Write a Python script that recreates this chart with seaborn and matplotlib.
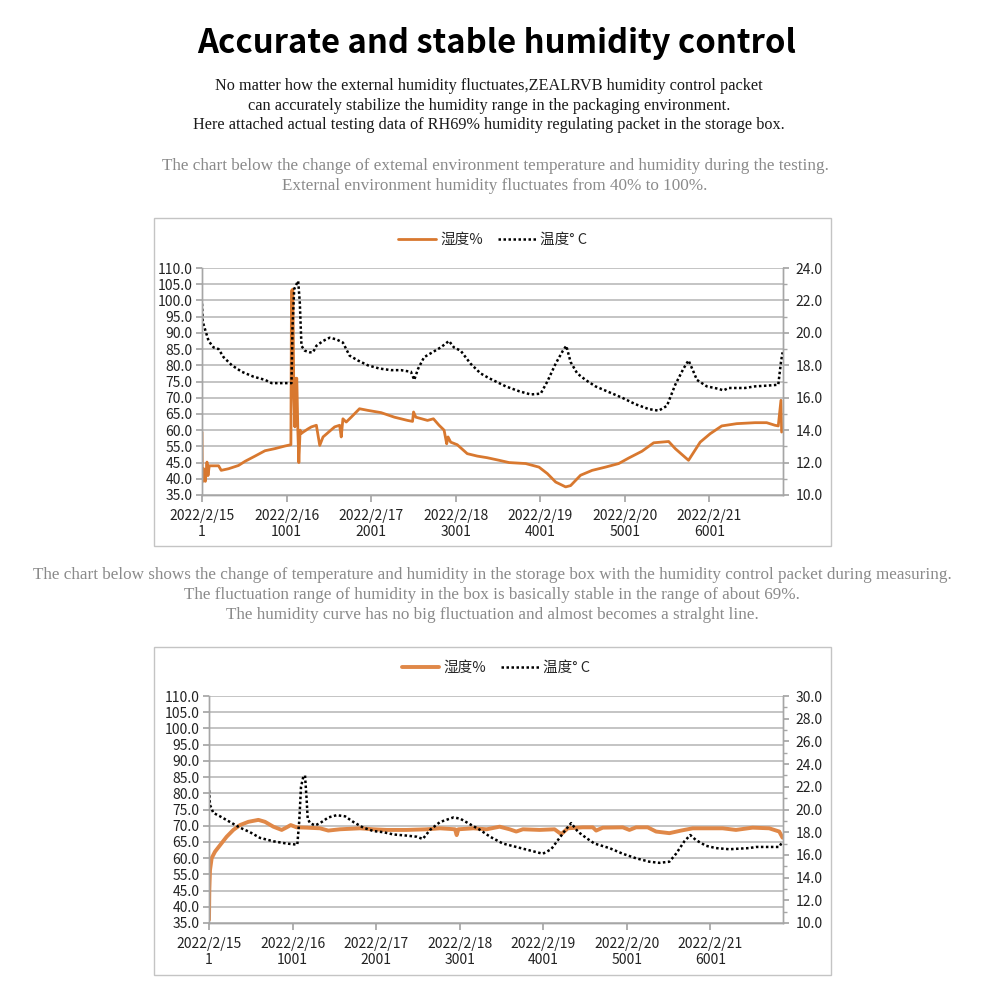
import numpy as np
import matplotlib
matplotlib.use("Agg")
import matplotlib.pyplot as plt
from matplotlib.patches import Rectangle
from matplotlib.ticker import MultipleLocator
import seaborn as sns

# ---- text ----
title = "Accurate and stable humidity control"
intro_lines = [
    "No matter how the external humidity fluctuates,ZEALRVB humidity control packet",
    "can accurately stabilize the humidity range in the packaging environment.",
    "Here attached actual testing data of RH69% humidity regulating packet in the storage box.",
]
note1_lines = [
    "The chart below the change of extemal environment temperature and humidity during the testing.",
    "External environment humidity fluctuates from 40% to 100%.",
]
note2_lines = [
    "The chart below shows the change of temperature and humidity in the storage box with the humidity control packet during measuring.",
    "The fluctuation range of humidity in the box is basically stable in the range of about 69%.",
    "The humidity curve has no big fluctuation and almost becomes a stralght line.",
]
legend_labels = ["湿度%", "温度° C"]

# ---- axes ----
x_ticks = [1, 1001, 2001, 3001, 4001, 5001, 6001]
x_dates = ["2022/2/15", "2022/2/16", "2022/2/17", "2022/2/18", "2022/2/19", "2022/2/20", "2022/2/21"]
hum_ticks = [35, 40, 45, 55, 60, 65, 70, 75, 80, 85, 90, 95, 100, 105, 110]

# ---- chart 1: outside environment ----
hum_top_x = [1, 5, 21, 40, 60, 72, 87, 197, 228, 315, 432, 511, 628, 746, 863, 981,
             1052, 1059, 1075, 1087, 1099, 1110, 1122, 1134, 1146, 1161, 1177, 1197,
             1255, 1294, 1353, 1393, 1432, 1569, 1628, 1647, 1667, 1706, 1765, 1863,
             1961, 2118, 2275, 2431, 2490, 2502, 2529, 2667, 2737, 2804, 2863, 2894,
             2910, 2941, 3019, 3137, 3255, 3372, 3514, 3632, 3828, 3985, 4084, 4182,
             4300, 4359, 4477, 4614, 4771, 4928, 5046, 5203, 5341, 5518, 5596, 5753,
             5891, 6009, 6146, 6323, 6539, 6677, 6775, 6814, 6846, 6854]
hum_top_y = [59.4, 39.0, 43.1, 39.2, 45.3, 41.0, 44.0, 44.0, 42.6, 43.1, 44.1, 45.8, 49.0, 52.3, 53.6, 55.1,
             55.5, 103.0, 103.5, 70.0, 61.0, 76.0, 76.0, 60.0, 45.0, 60.0, 59.0, 59.4,
             60.4, 61.0, 61.5, 55.3, 57.9, 61.0, 61.5, 57.9, 63.5, 62.5, 64.0, 66.6,
             66.1, 65.4, 64.0, 63.0, 62.7, 65.6, 64.0, 63.0, 63.5, 61.5, 60.0, 55.8,
             57.9, 56.3, 55.5, 50.5, 49.0, 48.0, 46.4, 45.0, 44.7, 43.6, 41.6, 39.0,
             37.5, 37.9, 41.1, 42.6, 43.6, 44.7, 47.8, 52.0, 56.1, 56.5, 53.6, 46.4,
             56.3, 58.9, 61.3, 62.0, 62.3, 62.3, 61.5, 61.3, 69.2, 59.4]
temp_top_x = [1, 9, 79, 138, 197, 256, 354, 471, 609, 746, 824, 1059, 1071, 1091, 1118,
              1138, 1157, 1177, 1216, 1275, 1314, 1353, 1432, 1510, 1589, 1667, 1745,
              1843, 1961, 2098, 2235, 2353, 2471, 2510, 2557, 2627, 2725, 2823, 2921,
              2980, 3059, 3176, 3294, 3396, 3475, 3592, 3750, 3887, 4005, 4084, 4182,
              4268, 4308, 4359, 4437, 4535, 4653, 4810, 4968, 5125, 5282, 5400, 5498,
              5596, 5694, 5753, 5812, 5852, 5969, 6107, 6166, 6225, 6421, 6539, 6696,
              6814, 6846, 6865]
temp_top_y = [21.8, 20.7, 19.5, 19.1, 19.0, 18.5, 18.0, 17.6, 17.3, 17.1, 16.9, 16.9, 20.3, 22.7, 23.0,
              23.2, 21.9, 19.2, 18.9, 18.8, 18.8, 19.2, 19.5, 19.7, 19.6, 19.4, 18.6,
              18.3, 18.0, 17.8, 17.7, 17.7, 17.6, 17.1, 17.8, 18.5, 18.8, 19.1, 19.5,
              19.1, 18.9, 18.1, 17.5, 17.2, 17.0, 16.7, 16.4, 16.2, 16.25, 17.0, 18.1,
              18.9, 19.2, 18.2, 17.5, 17.1, 16.7, 16.35, 16.0, 15.6, 15.3, 15.2, 15.5,
              16.8, 17.8, 18.3, 17.6, 17.1, 16.7, 16.55, 16.45, 16.6, 16.6, 16.7, 16.75,
              16.8, 18.2, 18.8]

# ---- chart 2: inside the storage box ----
hum_box_x = [1, 5, 13, 33, 73, 133, 212, 292, 372, 472, 592, 671, 771, 871, 931, 979,
             1050, 1170, 1330, 1429, 1569, 1808, 1968, 2127, 2367, 2606, 2766, 2945,
             2965, 2985, 3165, 3324, 3479, 3598, 3678, 3757, 3957, 4136, 4216, 4295,
             4474, 4594, 4634, 4713, 4953, 5032, 5112, 5251, 5351, 5510, 5650, 5789,
             5949, 6148, 6307, 6506, 6705, 6825, 6865]
hum_box_y = [36.0, 45.3, 56.3, 60.0, 62.0, 64.0, 66.6, 68.7, 70.2, 71.2, 71.8, 71.2, 69.7, 68.7, 69.5, 70.2,
             69.5, 69.4, 69.2, 68.5, 68.9, 69.2, 68.9, 68.7, 68.7, 68.9, 69.2, 68.9,
             67.1, 68.9, 69.2, 68.9, 69.7, 68.9, 68.2, 68.9, 68.7, 68.9, 67.4, 69.2,
             69.5, 69.5, 68.5, 69.4, 69.5, 68.7, 69.5, 69.5, 68.2, 67.7, 68.5, 69.2,
             69.2, 69.2, 68.7, 69.4, 69.2, 68.2, 66.3]
temp_box_x = [1, 13, 53, 133, 252, 372, 492, 611, 771, 931, 1058, 1082, 1102, 1130, 1150,
              1170, 1182, 1210, 1270, 1330, 1429, 1529, 1629, 1729, 1848, 1968, 2088,
              2208, 2367, 2487, 2559, 2646, 2766, 2926, 3005, 3125, 3245, 3365, 3518,
              3678, 3837, 3996, 4096, 4176, 4267, 4335, 4415, 4514, 4614, 4793, 4953,
              5112, 5271, 5391, 5510, 5590, 5690, 5761, 5829, 5949, 6068, 6227, 6466,
              6546, 6705, 6825, 6865]
temp_box_y = [21.7, 20.4, 19.7, 19.4, 18.9, 18.4, 18.0, 17.5, 17.2, 17.0, 16.9, 19.1, 22.0, 22.9, 23.0,
              20.8, 19.2, 18.8, 18.6, 18.8, 19.3, 19.5, 19.4, 18.9, 18.4, 18.1, 18.0,
              17.8, 17.7, 17.6, 17.4, 18.2, 18.9, 19.3, 19.2, 18.7, 18.2, 17.6, 17.0,
              16.7, 16.4, 16.1, 16.5, 17.3, 18.2, 18.8, 18.05, 17.5, 17.0, 16.6, 16.1,
              15.7, 15.4, 15.3, 15.4, 16.1, 17.2, 17.75, 17.3, 16.8, 16.6, 16.5, 16.6,
              16.7, 16.7, 16.7, 17.2]

ORANGE_TOP = "#D8782F"
ORANGE_BOX = "#E08848"
GRID = "#BFBFBF"
AXIS = "#A6A6A6"
SANS = ["Noto Sans CJK SC", "DejaVu Sans"]
SERIF = ["Liberation Serif", "DejaVu Serif"]

sns.set_theme(style="white")
plt.rcParams["font.family"] = SANS
plt.rcParams["axes.unicode_minus"] = False


# the left axis in the source skips 50.0: 45 -> 55 takes one grid step
def hum_fwd(v):
    v = np.asarray(v, dtype=float)
    return np.where(v <= 45, (v - 35) / 5, np.where(v >= 55, (v - 40) / 5, 2 + (v - 45) / 10))


def hum_inv(p):
    p = np.asarray(p, dtype=float)
    return np.where(p <= 2, 35 + 5 * p, np.where(p >= 3, 40 + 5 * p, 45 + 10 * (p - 2)))


fig = plt.figure(figsize=(10, 10), dpi=100)


def draw_chart(rect, box, hx, hy, tx, ty, tlim, hum_color, hum_lw):
    fig.patches.append(Rectangle(box[:2], box[2], box[3], transform=fig.transFigure,
                                 fill=False, ec="#C4C4C4", lw=1.0))
    ax = fig.add_axes(rect)
    sns.lineplot(x=hx, y=hy, ax=ax, color=hum_color, lw=hum_lw, estimator=None, legend=False)
    ax.set_yscale("function", functions=(hum_fwd, hum_inv))
    ax.set_ylim(35, 110)
    ax.set_yticks(hum_ticks)
    ax.set_yticklabels([f"{v:.1f}" for v in hum_ticks])
    ax.yaxis.set_minor_locator(plt.NullLocator())
    ax.set_xlim(1, 6870)
    ax.set_xticks(x_ticks)
    ax.set_xticklabels([f"{d}\n{i}" for d, i in zip(x_dates, x_ticks)], linespacing=1.2)
    ax.grid(axis="y", color=GRID, lw=1.3)
    ax.set_axisbelow(True)
    ax.set_xlabel("")
    ax.set_ylabel("")

    ax2 = ax.twinx()
    sns.lineplot(x=tx, y=ty, ax=ax2, color="black", lw=1.8, linestyle=(0, (1, 1)),
                 estimator=None, legend=False)
    ax2.set_ylim(*tlim)
    ax2.yaxis.set_major_locator(MultipleLocator(2))
    ax2.yaxis.set_minor_locator(MultipleLocator(1))
    ax2.yaxis.set_major_formatter(lambda v, p: f"{v:.1f}")
    ax2.set_ylabel("")

    for a in (ax, ax2):
        a.spines["top"].set_visible(False)
        for s in ("left", "right", "bottom"):
            a.spines[s].set_color(AXIS)
            a.spines[s].set_linewidth(1.0)
    ax.tick_params(axis="y", which="both", left=True, length=4, color=AXIS, labelsize=10,
                   pad=3, labelcolor="#222222")
    ax.tick_params(axis="x", bottom=True, length=5, color=AXIS, labelsize=10, pad=5,
                   labelcolor="#222222")
    ax2.tick_params(axis="y", which="major", right=True, length=4, color=AXIS, labelsize=10,
                    pad=5, labelcolor="#222222")
    ax2.tick_params(axis="y", which="minor", right=True, length=3, color=AXIS)

    ax2.legend([ax.lines[0], ax2.lines[0]], legend_labels, loc="lower center",
               bbox_to_anchor=(0.5, 1.035), ncol=2, frameon=False, fontsize=10.5,
               handlelength=2.6, columnspacing=1.0, handletextpad=0.3)


draw_chart([0.202, 0.505, 0.581, 0.227], (0.154, 0.454, 0.677, 0.328),
           hum_top_x, hum_top_y, temp_top_x, temp_top_y, (10, 24), ORANGE_TOP, 2.0)
draw_chart([0.209, 0.077, 0.574, 0.227], (0.154, 0.025, 0.677, 0.328),
           hum_box_x, hum_box_y, temp_box_x, temp_box_y, (10, 30), ORANGE_BOX, 2.8)

# ---- headings ----
fig.text(0.497, 1 - 44 / 1000, title, ha="center", va="center", fontsize=23.6,
         fontweight="bold", family=SANS, color="black")
for i, line in enumerate(intro_lines):
    fig.text(0.489, 1 - (86 + 19.5 * i) / 1000, line, ha="center", va="center",
             fontsize=11.7, family=SERIF, color="#1a1a1a")
for i, line in enumerate(note1_lines):
    fig.text(0.495, 1 - (166 + 20 * i) / 1000, line, ha="center", va="center",
             fontsize=12.3, family=SERIF, color="#8a8a8a")
for i, line in enumerate(note2_lines):
    fig.text(0.492, 1 - (575 + 20 * i) / 1000, line, ha="center", va="center",
             fontsize=12.3, family=SERIF, color="#8a8a8a")

fig.savefig("out.png", dpi=100, facecolor="white")
